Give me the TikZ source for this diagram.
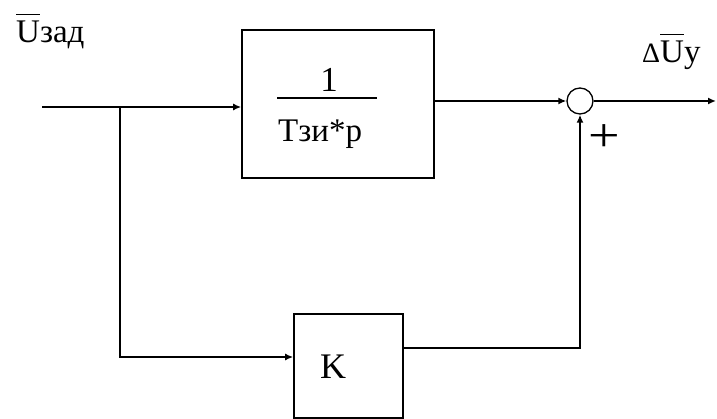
\documentclass[tikz,border=0pt]{standalone}
\usepackage{fontspec}
\setmainfont{Liberation Serif}
\usetikzlibrary{arrows.meta,calc}
\newcommand\ovlU{\vbox{\hrule height 1.6pt\kern 6pt\hbox{U}}}
\begin{document}
\begin{tikzpicture}[x=1pt,y=-1pt,
  line/.style={line width=1.6pt},
  arr/.style={line, -{Latex[length=8pt,width=7pt]}},
  blk/.style={draw, line width=1.6pt, rectangle, inner sep=0},
  lbl/.style={inner sep=0, font=\fontsize{33}{33}\selectfont}]
\useasboundingbox (0,0) rectangle (717,419);
% blocks
\node[blk, minimum width=192pt, minimum height=148pt] (W) at (338,104) {};
\node[blk, minimum width=109pt, minimum height=104pt] (K) at (348.5,366) {};
\node[draw, circle, line width=1.3pt, minimum size=26pt, inner sep=0] (S) at (580,101) {};
% coordinates
\coordinate (in) at (42,107);
\coordinate (br) at (120,107);
\coordinate (out) at (716,101);
% connectors
\draw[line] (in) -- (br);
\draw[arr] (br) -- (W.west |- br);
\draw[arr] (br) |- (K.west |- 0,357);
\draw[arr] (W.east |- S.west) -- (S.west);
\draw[arr] (S.east) -- (out);
\draw[arr] (K.east |- 0,348) -| (S.south);
% fraction
\draw[line] (277,98) -- (377,98);
\node[lbl, anchor=base, font=\fontsize{35}{35}\selectfont] (one) at (329,92) {1};
\node[lbl, anchor=base west] (den) at (278,142) {Tзи*p};
\node[lbl, anchor=base west, font=\fontsize{36}{36}\selectfont] (kl) at (320,378) {K};
% labels
\node[lbl, anchor=base west] (uz) at (16,43) {\ovlU зад};
\node[lbl, anchor=base west] (du) at (642,63) {{\fontsize{28}{28}\selectfont Δ}\ovlU y};
\node[inner sep=0] (plus) at (604,138) {\scalebox{1}[0.85]{\fontsize{56}{56}\selectfont +}};
\end{tikzpicture}
\end{document}
